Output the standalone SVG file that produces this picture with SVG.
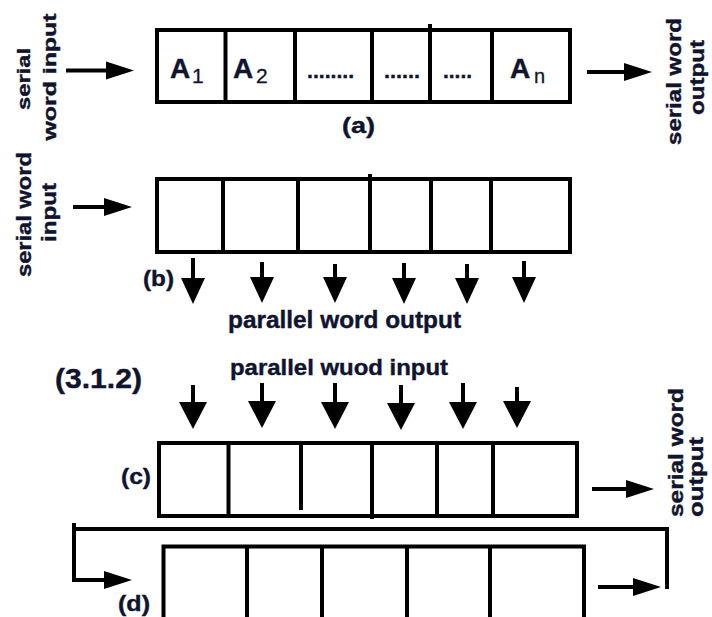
<svg xmlns="http://www.w3.org/2000/svg" width="712" height="617" viewBox="0 0 712 617">
<style>
text{font-family:"Liberation Sans",Arial,sans-serif;fill:#10142e;font-weight:bold;stroke:#10142e;stroke-width:0.4}
.reg{fill:none;stroke:#000;stroke-width:4}
.div{stroke:#000;stroke-width:4}
.ln{stroke:#000;stroke-width:4;fill:none}
.sub{font-weight:normal;stroke-width:0.3}
</style>
<defs>
<marker id="ah" markerUnits="userSpaceOnUse" markerWidth="30" markerHeight="20" refX="1" refY="9" orient="auto" overflow="visible"><path d="M0,0 L28,9 L0,18 z" fill="#000"/></marker>
<marker id="ahb" markerUnits="userSpaceOnUse" markerWidth="30" markerHeight="26" refX="1" refY="12" orient="auto" overflow="visible"><path d="M0,0 L26,12 L0,24 z" fill="#000"/></marker>
<marker id="ahc" markerUnits="userSpaceOnUse" markerWidth="30" markerHeight="30" refX="1" refY="14" orient="auto" overflow="visible"><path d="M0,0 L27,14 L0,28 z" fill="#000"/></marker>
</defs>

<g id="reg-a">
<rect class="reg" x="157" y="30" width="413" height="72"/>
<line class="div" x1="225.5" y1="30" x2="225.5" y2="102"/>
<line class="div" x1="295" y1="30" x2="295" y2="102"/>
<line class="div" x1="372" y1="30" x2="372" y2="102"/>
<line class="div" x1="430" y1="24" x2="430" y2="102"/>
<line class="div" x1="492" y1="30" x2="492" y2="102"/>
<text x="170" y="78" font-size="28">A</text><text class="sub" x="192" y="83" font-size="21">1</text>
<text x="233" y="78" font-size="28">A</text><text class="sub" x="256" y="83" font-size="21">2</text>
<text x="307" y="78" font-size="20" textLength="47" lengthAdjust="spacingAndGlyphs">........</text>
<text x="384" y="78" font-size="20" textLength="36" lengthAdjust="spacingAndGlyphs">......</text>
<text x="443" y="78" font-size="20" textLength="29" lengthAdjust="spacingAndGlyphs">.....</text>
<text x="510" y="78" font-size="28">A</text><text class="sub" x="534" y="83" font-size="20">n</text>
<text x="342" y="133" font-size="22" textLength="33" lengthAdjust="spacingAndGlyphs">(a)</text>
</g>

<g id="label-a-in">
<text transform="translate(30,79) rotate(-90)" text-anchor="middle" font-size="19" textLength="62" lengthAdjust="spacingAndGlyphs">serial</text>
<text transform="translate(56,77) rotate(-90)" text-anchor="middle" font-size="19" textLength="127" lengthAdjust="spacingAndGlyphs">word input</text>
</g>
<g id="label-a-out">
<text transform="translate(681,81.5) rotate(-90)" text-anchor="middle" font-size="20" textLength="127" lengthAdjust="spacingAndGlyphs">serial word</text>
<text transform="translate(704,77.5) rotate(-90)" text-anchor="middle" font-size="20" textLength="75" lengthAdjust="spacingAndGlyphs">output</text>
</g>

<g id="reg-b">
<rect class="reg" x="157" y="179" width="413" height="73"/>
<line class="div" x1="223" y1="179" x2="223" y2="252"/>
<line class="div" x1="298" y1="179" x2="298" y2="252"/>
<line class="div" x1="370" y1="174" x2="370" y2="252"/>
<line class="div" x1="431" y1="179" x2="431" y2="252"/>
<line class="div" x1="491" y1="179" x2="491" y2="252"/>
<text x="143" y="286" font-size="22" textLength="31" lengthAdjust="spacingAndGlyphs">(b)</text>
</g>
<g id="label-b-in">
<text transform="translate(31,214.5) rotate(-90)" text-anchor="middle" font-size="20" textLength="125" lengthAdjust="spacingAndGlyphs">serial word</text>
<text transform="translate(56,212.5) rotate(-90)" text-anchor="middle" font-size="20" textLength="59" lengthAdjust="spacingAndGlyphs">input</text>
</g>
<g id="label-b-out">
<text x="228" y="328" font-size="23" textLength="233" lengthAdjust="spacingAndGlyphs">parallel word output</text>
</g>

<g id="label-312">
<text x="55" y="388" font-size="28" textLength="87" lengthAdjust="spacingAndGlyphs">(3.1.2)</text>
</g>
<g id="label-c-in">
<text x="230" y="375" font-size="22" textLength="218" lengthAdjust="spacingAndGlyphs">parallel wuod input</text>
</g>

<g id="reg-c">
<rect class="reg" x="159" y="443" width="418" height="73"/>
<line class="div" x1="228.5" y1="443" x2="228.5" y2="516"/>
<line class="div" x1="301" y1="443" x2="301" y2="510"/>
<line class="div" x1="372" y1="443" x2="372" y2="519"/>
<line class="div" x1="437" y1="443" x2="437" y2="516"/>
<line class="div" x1="493" y1="443" x2="493" y2="516"/>
<text x="121" y="484" font-size="22" textLength="30" lengthAdjust="spacingAndGlyphs">(c)</text>
</g>
<g id="label-c-out">
<text transform="translate(683,517) rotate(-90)" font-size="20" textLength="129" lengthAdjust="spacingAndGlyphs">serial word</text>
<text transform="translate(703,517) rotate(-90)" font-size="20" textLength="80" lengthAdjust="spacingAndGlyphs">output</text>
</g>

<g id="reg-d">
<path class="reg" d="M163.5,630 V546.5 H584 V630"/>
<line class="div" x1="247" y1="546.5" x2="247" y2="630"/>
<line class="div" x1="322" y1="546.5" x2="322" y2="630"/>
<line class="div" x1="407" y1="546.5" x2="407" y2="630"/>
<line class="div" x1="490" y1="546.5" x2="490" y2="630"/>
<text x="118" y="611" font-size="22" textLength="32" lengthAdjust="spacingAndGlyphs">(d)</text>
</g>

<g id="connectors">
<line class="ln" x1="66" y1="70.5" x2="107" y2="70.5" marker-end="url(#ah)"/>
<line class="ln" x1="587" y1="72" x2="625" y2="72" marker-end="url(#ah)"/>
<line class="ln" x1="73" y1="207" x2="105" y2="207" marker-end="url(#ah)"/>
<line class="ln" x1="193" y1="258" x2="193" y2="279" marker-end="url(#ahb)"/>
<line class="ln" x1="262" y1="262" x2="262" y2="278" marker-end="url(#ahb)"/>
<line class="ln" x1="335" y1="264" x2="335" y2="278" marker-end="url(#ahb)"/>
<line class="ln" x1="404" y1="263" x2="404" y2="279" marker-end="url(#ahb)"/>
<line class="ln" x1="467" y1="264" x2="467" y2="279" marker-end="url(#ahb)"/>
<line class="ln" x1="524" y1="261" x2="524" y2="278" marker-end="url(#ahb)"/>
<line class="ln" x1="193" y1="385" x2="193" y2="403" marker-end="url(#ahc)"/>
<line class="ln" x1="262" y1="383" x2="262" y2="402" marker-end="url(#ahc)"/>
<line class="ln" x1="335" y1="383" x2="335" y2="403" marker-end="url(#ahc)"/>
<line class="ln" x1="401" y1="385" x2="401" y2="404" marker-end="url(#ahc)"/>
<line class="ln" x1="463" y1="383" x2="463" y2="403" marker-end="url(#ahc)"/>
<line class="ln" x1="517" y1="387" x2="517" y2="402" marker-end="url(#ahc)"/>
<line class="ln" x1="592" y1="489" x2="627" y2="489" marker-end="url(#ah)"/>
<path class="ln" d="M74,523 V580 H105" marker-end="url(#ah)"/>
<path class="ln" d="M74,529 H667 V589"/>
<line class="ln" x1="598" y1="587" x2="634" y2="587" marker-end="url(#ah)"/>
</g>
</svg>
